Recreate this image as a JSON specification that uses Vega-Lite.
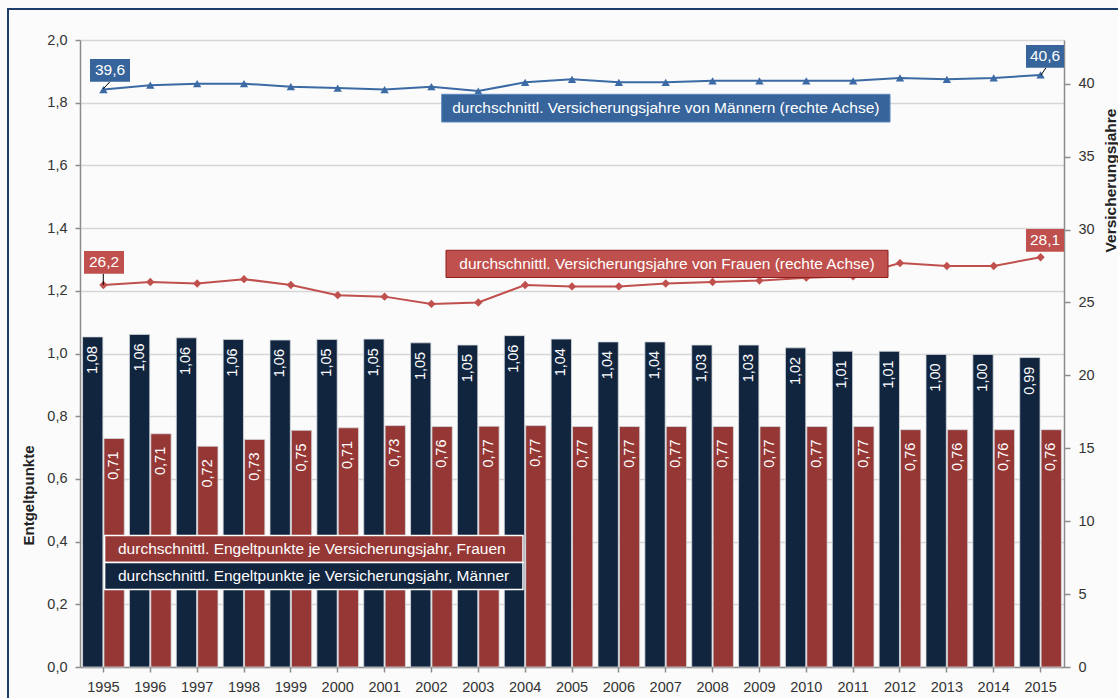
{
  "$schema": "https://vega.github.io/schema/vega-lite/v6.json",
  "width": 984,
  "height": 627,
  "autosize": {"type": "none"},
  "padding": {"left": 80, "top": 40, "right": 54, "bottom": 31},
  "background": "#fbfbfb",
  "config": {
    "view": {"stroke": null},
    "font": "Liberation Sans"
  },
  "datasets": {
    "bars": [
      {"year": "1995", "sex": "Männer", "ep": 1.053, "lab": "1,08"},
      {"year": "1996", "sex": "Männer", "ep": 1.061, "lab": "1,06"},
      {"year": "1997", "sex": "Männer", "ep": 1.050, "lab": "1,06"},
      {"year": "1998", "sex": "Männer", "ep": 1.045, "lab": "1,06"},
      {"year": "1999", "sex": "Männer", "ep": 1.043, "lab": "1,06"},
      {"year": "2000", "sex": "Männer", "ep": 1.045, "lab": "1,05"},
      {"year": "2001", "sex": "Männer", "ep": 1.046, "lab": "1,05"},
      {"year": "2002", "sex": "Männer", "ep": 1.034, "lab": "1,05"},
      {"year": "2003", "sex": "Männer", "ep": 1.027, "lab": "1,05"},
      {"year": "2004", "sex": "Männer", "ep": 1.057, "lab": "1,06"},
      {"year": "2005", "sex": "Männer", "ep": 1.046, "lab": "1,04"},
      {"year": "2006", "sex": "Männer", "ep": 1.037, "lab": "1,04"},
      {"year": "2007", "sex": "Männer", "ep": 1.037, "lab": "1,04"},
      {"year": "2008", "sex": "Männer", "ep": 1.027, "lab": "1,03"},
      {"year": "2009", "sex": "Männer", "ep": 1.027, "lab": "1,03"},
      {"year": "2010", "sex": "Männer", "ep": 1.018, "lab": "1,02"},
      {"year": "2011", "sex": "Männer", "ep": 1.007, "lab": "1,01"},
      {"year": "2012", "sex": "Männer", "ep": 1.007, "lab": "1,01"},
      {"year": "2013", "sex": "Männer", "ep": 0.997, "lab": "1,00"},
      {"year": "2014", "sex": "Männer", "ep": 0.997, "lab": "1,00"},
      {"year": "2015", "sex": "Männer", "ep": 0.987, "lab": "0,99"},
      {"year": "1995", "sex": "Frauen", "ep": 0.729, "lab": "0,71"},
      {"year": "1996", "sex": "Frauen", "ep": 0.744, "lab": "0,71"},
      {"year": "1997", "sex": "Frauen", "ep": 0.704, "lab": "0,72"},
      {"year": "1998", "sex": "Frauen", "ep": 0.726, "lab": "0,73"},
      {"year": "1999", "sex": "Frauen", "ep": 0.755, "lab": "0,75"},
      {"year": "2000", "sex": "Frauen", "ep": 0.763, "lab": "0,71"},
      {"year": "2001", "sex": "Frauen", "ep": 0.770, "lab": "0,73"},
      {"year": "2002", "sex": "Frauen", "ep": 0.767, "lab": "0,76"},
      {"year": "2003", "sex": "Frauen", "ep": 0.768, "lab": "0,77"},
      {"year": "2004", "sex": "Frauen", "ep": 0.770, "lab": "0,77"},
      {"year": "2005", "sex": "Frauen", "ep": 0.767, "lab": "0,77"},
      {"year": "2006", "sex": "Frauen", "ep": 0.767, "lab": "0,77"},
      {"year": "2007", "sex": "Frauen", "ep": 0.767, "lab": "0,77"},
      {"year": "2008", "sex": "Frauen", "ep": 0.767, "lab": "0,77"},
      {"year": "2009", "sex": "Frauen", "ep": 0.767, "lab": "0,77"},
      {"year": "2010", "sex": "Frauen", "ep": 0.767, "lab": "0,77"},
      {"year": "2011", "sex": "Frauen", "ep": 0.767, "lab": "0,77"},
      {"year": "2012", "sex": "Frauen", "ep": 0.757, "lab": "0,76"},
      {"year": "2013", "sex": "Frauen", "ep": 0.757, "lab": "0,76"},
      {"year": "2014", "sex": "Frauen", "ep": 0.757, "lab": "0,76"},
      {"year": "2015", "sex": "Frauen", "ep": 0.757, "lab": "0,76"}
    ],
    "lines": [
      {"year": "1995", "reihe": "Männer", "jahre": 39.6},
      {"year": "1996", "reihe": "Männer", "jahre": 39.9},
      {"year": "1997", "reihe": "Männer", "jahre": 40.0},
      {"year": "1998", "reihe": "Männer", "jahre": 40.0},
      {"year": "1999", "reihe": "Männer", "jahre": 39.8},
      {"year": "2000", "reihe": "Männer", "jahre": 39.7},
      {"year": "2001", "reihe": "Männer", "jahre": 39.6},
      {"year": "2002", "reihe": "Männer", "jahre": 39.8},
      {"year": "2003", "reihe": "Männer", "jahre": 39.5},
      {"year": "2004", "reihe": "Männer", "jahre": 40.1},
      {"year": "2005", "reihe": "Männer", "jahre": 40.3},
      {"year": "2006", "reihe": "Männer", "jahre": 40.1},
      {"year": "2007", "reihe": "Männer", "jahre": 40.1},
      {"year": "2008", "reihe": "Männer", "jahre": 40.2},
      {"year": "2009", "reihe": "Männer", "jahre": 40.2},
      {"year": "2010", "reihe": "Männer", "jahre": 40.2},
      {"year": "2011", "reihe": "Männer", "jahre": 40.2},
      {"year": "2012", "reihe": "Männer", "jahre": 40.4},
      {"year": "2013", "reihe": "Männer", "jahre": 40.3},
      {"year": "2014", "reihe": "Männer", "jahre": 40.4},
      {"year": "2015", "reihe": "Männer", "jahre": 40.6},
      {"year": "1995", "reihe": "Frauen", "jahre": 26.2},
      {"year": "1996", "reihe": "Frauen", "jahre": 26.4},
      {"year": "1997", "reihe": "Frauen", "jahre": 26.3},
      {"year": "1998", "reihe": "Frauen", "jahre": 26.6},
      {"year": "1999", "reihe": "Frauen", "jahre": 26.2},
      {"year": "2000", "reihe": "Frauen", "jahre": 25.5},
      {"year": "2001", "reihe": "Frauen", "jahre": 25.4},
      {"year": "2002", "reihe": "Frauen", "jahre": 24.9},
      {"year": "2003", "reihe": "Frauen", "jahre": 25.0},
      {"year": "2004", "reihe": "Frauen", "jahre": 26.2},
      {"year": "2005", "reihe": "Frauen", "jahre": 26.1},
      {"year": "2006", "reihe": "Frauen", "jahre": 26.1},
      {"year": "2007", "reihe": "Frauen", "jahre": 26.3},
      {"year": "2008", "reihe": "Frauen", "jahre": 26.4},
      {"year": "2009", "reihe": "Frauen", "jahre": 26.5},
      {"year": "2010", "reihe": "Frauen", "jahre": 26.7},
      {"year": "2011", "reihe": "Frauen", "jahre": 26.8},
      {"year": "2012", "reihe": "Frauen", "jahre": 27.7},
      {"year": "2013", "reihe": "Frauen", "jahre": 27.5},
      {"year": "2014", "reihe": "Frauen", "jahre": 27.5},
      {"year": "2015", "reihe": "Frauen", "jahre": 28.1}
    ]
  },
  "layer": [
    {
      "layer": [
        {
          "data": {"name": "bars"},
          "layer": [
            {
              "mark": {"type": "bar", "stroke": "#d6dae0", "strokeWidth": 0.8},
              "encoding": {
                "x": {
                  "field": "year", "type": "ordinal",
                  "scale": {"paddingInner": 0.11, "paddingOuter": 0.055},
                  "axis": {
                    "title": null, "labelAngle": 0, "labelFontSize": 14.5, "labelColor": "#333333",
                    "tickColor": "#8c8c8c", "tickSize": 5, "tickWidth": 1.5, "domainColor": "#8c8c8c",
                    "domainWidth": 1.5, "labelPadding": 8, "bandPosition": 0.5, "grid": false
                  }
                },
                "xOffset": {"field": "sex", "type": "nominal", "scale": {"domain": ["Männer", "Frauen"], "paddingInner": 0.05}},
                "y": {
                  "field": "ep", "type": "quantitative",
                  "scale": {"domain": [0, 2], "nice": false},
                  "axis": {
                    "title": "Entgeltpunkte",
                    "values": [0, 0.2, 0.4, 0.6, 0.8, 1, 1.2, 1.4, 1.6, 1.8, 2],
                    "labelExpr": "replace(format(datum.value, '.1f'), '.', ',')",
                    "grid": true, "gridColor": "#d6d6d6", "gridWidth": 1.5,
                    "domainColor": "#8c8c8c", "domainWidth": 1.5,
                    "tickColor": "#8c8c8c", "tickSize": 5, "tickWidth": 1.5,
                    "labelPadding": 8, "labelFontSize": 14.5, "labelColor": "#333333",
                    "titleFontSize": 15, "titleFontWeight": "bold", "titleColor": "#222222",
                    "titleX": -47, "titleY": 455, "titleAngle": 270, "titleAlign": "center", "titleBaseline": "alphabetic"
                  }
                },
                "color": {
                  "field": "sex", "type": "nominal",
                  "scale": {"domain": ["Männer", "Frauen"], "range": ["#12253f", "#953735"]},
                  "legend": null
                }
              }
            },
            {
              "transform": [{"filter": "datum.sex === 'Männer'"}],
              "mark": {"type": "text", "angle": 270, "align": "right", "baseline": "middle", "dx": -9, "color": "#ffffff", "fontSize": 14.5},
              "encoding": {
                "x": {"field": "year", "type": "ordinal"},
                "xOffset": {"field": "sex", "type": "nominal"},
                "y": {"field": "ep", "type": "quantitative"},
                "text": {"field": "lab"}
              }
            },
            {
              "transform": [{"filter": "datum.sex === 'Frauen'"}],
              "mark": {"type": "text", "angle": 270, "align": "right", "baseline": "middle", "dx": -13, "color": "#ffffff", "fontSize": 14.5},
              "encoding": {
                "x": {"field": "year", "type": "ordinal"},
                "xOffset": {"field": "sex", "type": "nominal"},
                "y": {"field": "ep", "type": "quantitative"},
                "text": {"field": "lab"}
              }
            }
          ]
        },
        {
          "data": {"name": "lines"},
          "layer": [
            {
              "mark": {"type": "line", "strokeWidth": 2},
              "encoding": {
                "x": {"field": "year", "type": "ordinal"},
                "y": {
                  "field": "jahre", "type": "quantitative",
                  "scale": {"domain": [0, 43], "nice": false},
                  "axis": {
                    "orient": "right", "title": "Versicherungsjahre",
                    "values": [0, 5, 10, 15, 20, 25, 30, 35, 40], "grid": false,
                    "domainColor": "#8c8c8c", "domainWidth": 1.5,
                    "tickColor": "#8c8c8c", "tickSize": 6, "tickWidth": 1.5,
                    "labelPadding": 8, "labelFontSize": 14.5, "labelColor": "#333333",
                    "titleFontSize": 15.5, "titleFontWeight": "bold", "titleColor": "#222222",
                    "titleX": 51, "titleY": 140, "titleAngle": 270, "titleAlign": "center", "titleBaseline": "alphabetic"
                  }
                },
                "color": {
                  "field": "reihe", "type": "nominal",
                  "scale": {"domain": ["Männer", "Frauen"], "range": ["#3b6aa4", "#c0504d"]},
                  "legend": null
                }
              }
            },
            {
              "mark": {"type": "point", "filled": true, "opacity": 1},
              "encoding": {
                "x": {"field": "year", "type": "ordinal"},
                "y": {"field": "jahre", "type": "quantitative"},
                "color": {"field": "reihe", "type": "nominal"},
                "shape": {
                  "field": "reihe", "type": "nominal",
                  "scale": {"domain": ["Männer", "Frauen"], "range": ["triangle-up", "diamond"]},
                  "legend": null
                },
                "size": {"value": 70}
              }
            }
          ]
        }
      ],
      "resolve": {"scale": {"y": "independent", "color": "independent"}}
    },
    {
      "data": {"values": [{}]},
      "layer": [
        {
          "mark": {"type": "rect", "fill": null, "fillOpacity": 0, "stroke": "#1f3d6b", "strokeWidth": 2},
          "encoding": {
            "x": {"datum": -1.5366, "type": "quantitative", "scale": {"domain": [0, 21], "nice": false, "zero": false}, "axis": null},
            "x2": {"datum": 22.6},
            "y": {"datum": 2.0989, "type": "quantitative", "scale": {"domain": [0, 2], "nice": false, "zero": false}, "axis": null},
            "y2": {"datum": -0.3}
          }
        },
        {
          "mark": {"type": "rect", "fill": "#36649b", "stroke": "#5b87bd", "strokeWidth": 1},
          "encoding": {
            "x": {"datum": 7.719, "type": "quantitative"}, "x2": {"datum": 17.287},
            "y": {"datum": 1.8268, "type": "quantitative"}, "y2": {"datum": 1.7384}
          }
        },
        {
          "mark": {"type": "text", "text": "durchschnittl. Versicherungsjahre von Männern (rechte Achse)", "color": "#ffffff", "fontSize": 15.5, "align": "center", "baseline": "middle"},
          "encoding": {"x": {"datum": 12.503, "type": "quantitative"}, "y": {"datum": 1.7826, "type": "quantitative"}}
        },
        {
          "mark": {"type": "rect", "fill": "#c0504d", "stroke": "#8c1f1d", "strokeWidth": 1},
          "encoding": {
            "x": {"datum": 7.811, "type": "quantitative"}, "x2": {"datum": 17.244},
            "y": {"datum": 1.3292, "type": "quantitative"}, "y2": {"datum": 1.2424}
          }
        },
        {
          "mark": {"type": "text", "text": "durchschnittl. Versicherungsjahre von Frauen (rechte Achse)", "color": "#ffffff", "fontSize": 15.5, "align": "center", "baseline": "middle"},
          "encoding": {"x": {"datum": 12.527, "type": "quantitative"}, "y": {"datum": 1.2858, "type": "quantitative"}}
        },
        {
          "mark": {"type": "rect", "fill": "#953735", "stroke": "#ffffff", "strokeWidth": 1.5},
          "encoding": {
            "x": {"datum": 0.525, "type": "quantitative"}, "x2": {"datum": 9.454},
            "y": {"datum": 0.4195, "type": "quantitative"}, "y2": {"datum": 0.3333}
          }
        },
        {
          "mark": {"type": "text", "text": "durchschnittl. Engeltpunkte je Versicherungsjahr, Frauen", "color": "#ffffff", "fontSize": 15.5, "align": "left", "baseline": "middle"},
          "encoding": {"x": {"datum": 0.811, "type": "quantitative"}, "y": {"datum": 0.3764, "type": "quantitative"}}
        },
        {
          "mark": {"type": "rect", "fill": "#12253f", "stroke": "#ffffff", "strokeWidth": 1.5},
          "encoding": {
            "x": {"datum": 0.525, "type": "quantitative"}, "x2": {"datum": 9.454},
            "y": {"datum": 0.3333, "type": "quantitative"}, "y2": {"datum": 0.2472}
          }
        },
        {
          "mark": {"type": "text", "text": "durchschnittl. Engeltpunkte je Versicherungsjahr, Männer", "color": "#ffffff", "fontSize": 15.5, "align": "left", "baseline": "middle"},
          "encoding": {"x": {"datum": 0.811, "type": "quantitative"}, "y": {"datum": 0.2903, "type": "quantitative"}}
        },
        {
          "mark": {"type": "rule", "color": "#000000", "strokeWidth": 1},
          "encoding": {
            "x": {"datum": 0.640, "type": "quantitative"}, "x2": {"datum": 0.499},
            "y": {"datum": 1.867, "type": "quantitative"}, "y2": {"datum": 1.8447}
          }
        },
        {
          "mark": {"type": "rect", "fill": "#36649b"},
          "encoding": {
            "x": {"datum": 0.2134, "type": "quantitative"}, "x2": {"datum": 1.067},
            "y": {"datum": 1.9394, "type": "quantitative"}, "y2": {"datum": 1.867}
          }
        },
        {
          "mark": {"type": "text", "text": "39,6", "color": "#ffffff", "fontSize": 15.5, "align": "center", "baseline": "middle"},
          "encoding": {"x": {"datum": 0.640, "type": "quantitative"}, "y": {"datum": 1.903, "type": "quantitative"}}
        },
        {
          "mark": {"type": "rule", "color": "#000000", "strokeWidth": 1},
          "encoding": {
            "x": {"datum": 0.497, "type": "quantitative"}, "x2": {"datum": 0.497},
            "y": {"datum": 1.2545, "type": "quantitative"}, "y2": {"datum": 1.2185}
          }
        },
        {
          "mark": {"type": "rect", "fill": "#c0504d"},
          "encoding": {
            "x": {"datum": 0.0854, "type": "quantitative"}, "x2": {"datum": 0.939},
            "y": {"datum": 1.3270, "type": "quantitative"}, "y2": {"datum": 1.2545}
          }
        },
        {
          "mark": {"type": "text", "text": "26,2", "color": "#ffffff", "fontSize": 15.5, "align": "center", "baseline": "middle"},
          "encoding": {"x": {"datum": 0.512, "type": "quantitative"}, "y": {"datum": 1.2907, "type": "quantitative"}}
        },
        {
          "mark": {"type": "rule", "color": "#000000", "strokeWidth": 1},
          "encoding": {
            "x": {"datum": 20.616, "type": "quantitative"}, "x2": {"datum": 20.509},
            "y": {"datum": 1.9116, "type": "quantitative"}, "y2": {"datum": 1.888}
          }
        },
        {
          "mark": {"type": "rect", "fill": "#36649b"},
          "encoding": {
            "x": {"datum": 20.189, "type": "quantitative"}, "x2": {"datum": 21.0},
            "y": {"datum": 1.984, "type": "quantitative"}, "y2": {"datum": 1.9116}
          }
        },
        {
          "mark": {"type": "text", "text": "40,6", "color": "#ffffff", "fontSize": 15.5, "align": "center", "baseline": "middle"},
          "encoding": {"x": {"datum": 20.595, "type": "quantitative"}, "y": {"datum": 1.948, "type": "quantitative"}}
        },
        {
          "mark": {"type": "rect", "fill": "#c0504d"},
          "encoding": {
            "x": {"datum": 20.189, "type": "quantitative"}, "x2": {"datum": 21.0},
            "y": {"datum": 1.3971, "type": "quantitative"}, "y2": {"datum": 1.3247}
          }
        },
        {
          "mark": {"type": "text", "text": "28,1", "color": "#ffffff", "fontSize": 15.5, "align": "center", "baseline": "middle"},
          "encoding": {"x": {"datum": 20.595, "type": "quantitative"}, "y": {"datum": 1.3609, "type": "quantitative"}}
        }
      ]
    }
  ],
  "resolve": {"scale": {"x": "independent", "y": "independent"}}
}
